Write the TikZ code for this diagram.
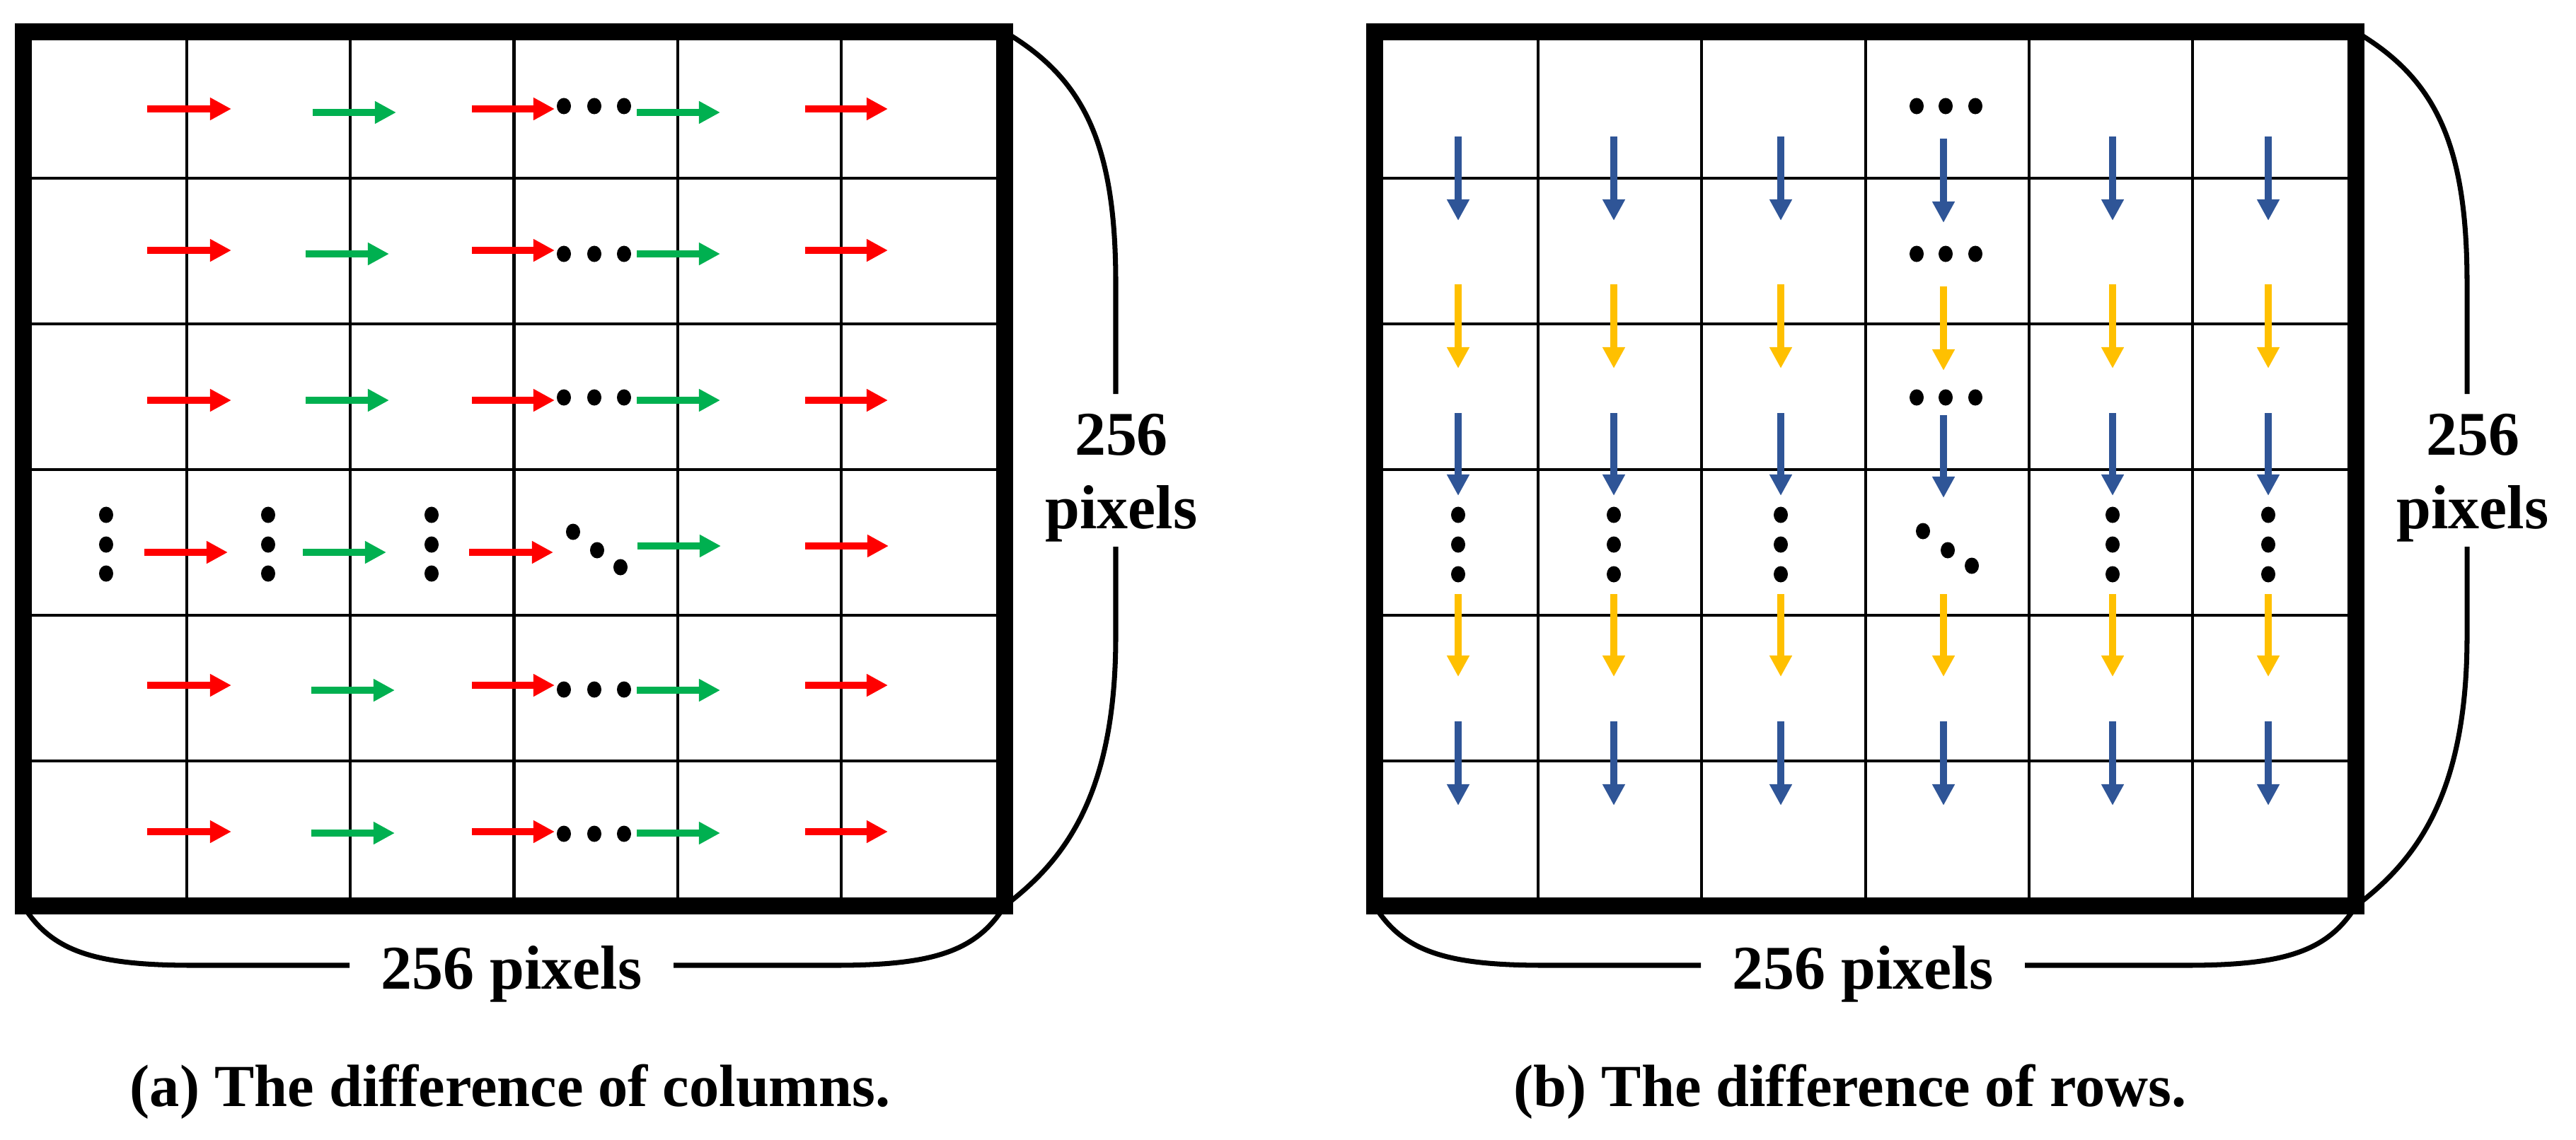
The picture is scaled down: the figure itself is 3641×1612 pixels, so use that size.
\documentclass[tikz,border=0pt]{standalone}
\usepackage{fontspec}
\setmainfont{Liberation Serif}
\usetikzlibrary{arrows.meta}
\definecolor{cred}{HTML}{FF0000}
\definecolor{cgreen}{HTML}{00B050}
\definecolor{cblue}{HTML}{2F5597}
\definecolor{cyellow}{HTML}{FFC000}
\tikzset{
  gridline/.style={line width=1.15pt, draw=black},
  border/.style={line width=6.6pt, draw=black, line join=miter},
  brace/.style={line width=2pt, draw=black, line cap=butt},
  arr/.style={line width=0.1cm, -{Triangle[length=0.3cm,width=0.3cm]}},
  redarr/.style={arr, draw=cred, fill=cred},
  greenarr/.style={arr, draw=cgreen, fill=cgreen},
  bluearr/.style={arr, draw=cblue, fill=cblue},
  yellowarr/.style={arr, draw=cyellow, fill=cyellow},
  lbl/.style={font=\fontsize{25pt}{30pt}\selectfont\bfseries, inner sep=0pt, anchor=base},
  captext/.style={font=\fontsize{24pt}{29pt}\selectfont\bfseries, inner sep=0pt, anchor=base},
}
\newcommand{\blackdot}[2]{\fill[black] (#1,#2) ellipse [x radius=0.1cm, y radius=0.115cm];}
\begin{document}
\begin{tikzpicture}[x=0.01cm,y=-0.01cm]
\useasboundingbox (0,0) rectangle (3641,1612);

% ---------- grids, borders, braces (both panels) ----------
\foreach \ox/\nm in {0/a,1910/b}{
  \begin{scope}[shift={(\ox,0)}]
    \foreach \i in {1,...,5}{
      \draw[gridline] ({33+231.17*\i},45) -- ({33+231.17*\i},1281);
      \draw[gridline] (33,{46+206*\i}) -- (1420,{46+206*\i});
    }
    \draw[border] (33,45) rectangle (1420,1281);
    % bottom brace
    \draw[brace] (33,1281) .. controls (73,1345) and (133,1365) .. (273,1365) -- (494,1365);
    \draw[brace] (952,1365) -- (1180,1365) .. controls (1320,1365) and (1380,1345) .. (1420,1281);
    % right brace
    \draw[brace] (1420,45) .. controls (1530,110) and (1577,200) .. (1577,400) -- (1577,557);
    \draw[brace] (1577,773) -- (1577,900) .. controls (1577,1130) and (1500,1220) .. (1420,1281);
    % labels
    \node[lbl] (bot\nm) at (723,1398) {256 pixels};
    \node[lbl] (rta\nm) at (1585,643) {256};
    \node[lbl] (rtb\nm) at (1585,747) {pixels};
  \end{scope}
}

% ---------- captions ----------
\node[captext] (capa) at (721,1564) {(a) The difference of columns.};
\node[captext] (capb) at (2615,1564) {(b) The difference of rows.};

% ---------- left panel: horizontal arrows ----------
\foreach \yr/\yg/\gs/\yd in {154/159/442/150, 354/359/432/359, 566/566/432/562, 969/976/440/975, 1176/1178/440/1179}{
  \draw[redarr] (208,\yr) -- (327,\yr);
  \draw[greenarr] (\gs,\yg) -- ({\gs+118},\yg);
  \draw[redarr] (667,\yr) -- (784,\yr);
  \blackdot{797}{\yd}
  \blackdot{840}{\yd}
  \blackdot{882}{\yd}
  \draw[greenarr] (900,\yg) -- (1018,\yg);
  \draw[redarr] (1138,\yr) -- (1255,\yr);
}
% row 4
\foreach \x in {150,379,610}{
  \blackdot{\x}{728}
  \blackdot{\x}{770}
  \blackdot{\x}{811}
}
\draw[redarr] (204,781) -- (322,781);
\draw[greenarr] (428,781) -- (546,781);
\draw[redarr] (663,781) -- (782,781);
\blackdot{810}{752}
\blackdot{844}{778}
\blackdot{877}{802}
\draw[greenarr] (901,772) -- (1019,772);
\draw[redarr] (1138,772) -- (1256,772);

% ---------- right panel: vertical arrows ----------
\foreach \x/\d in {2061/0, 2281/0, 2517/0, 2747/3, 2986/0, 3206/0}{
  \draw[bluearr] (\x,{193+\d}) -- (\x,{312+\d});
  \draw[yellowarr] (\x,{402+\d}) -- (\x,{521+\d});
  \draw[bluearr] (\x,{584+\d}) -- (\x,{701+\d});
  \draw[yellowarr] (\x,840) -- (\x,957);
  \draw[bluearr] (\x,1020) -- (\x,1139);
}
\foreach \yd in {150,359,562}{
  \blackdot{2709}{\yd}
  \blackdot{2750}{\yd}
  \blackdot{2792}{\yd}
}
\foreach \x in {2061,2281,2517,2986,3206}{
  \blackdot{\x}{728}
  \blackdot{\x}{770}
  \blackdot{\x}{812}
}
\blackdot{2718}{751}
\blackdot{2753}{778}
\blackdot{2787}{800}
\end{tikzpicture}
\end{document}
